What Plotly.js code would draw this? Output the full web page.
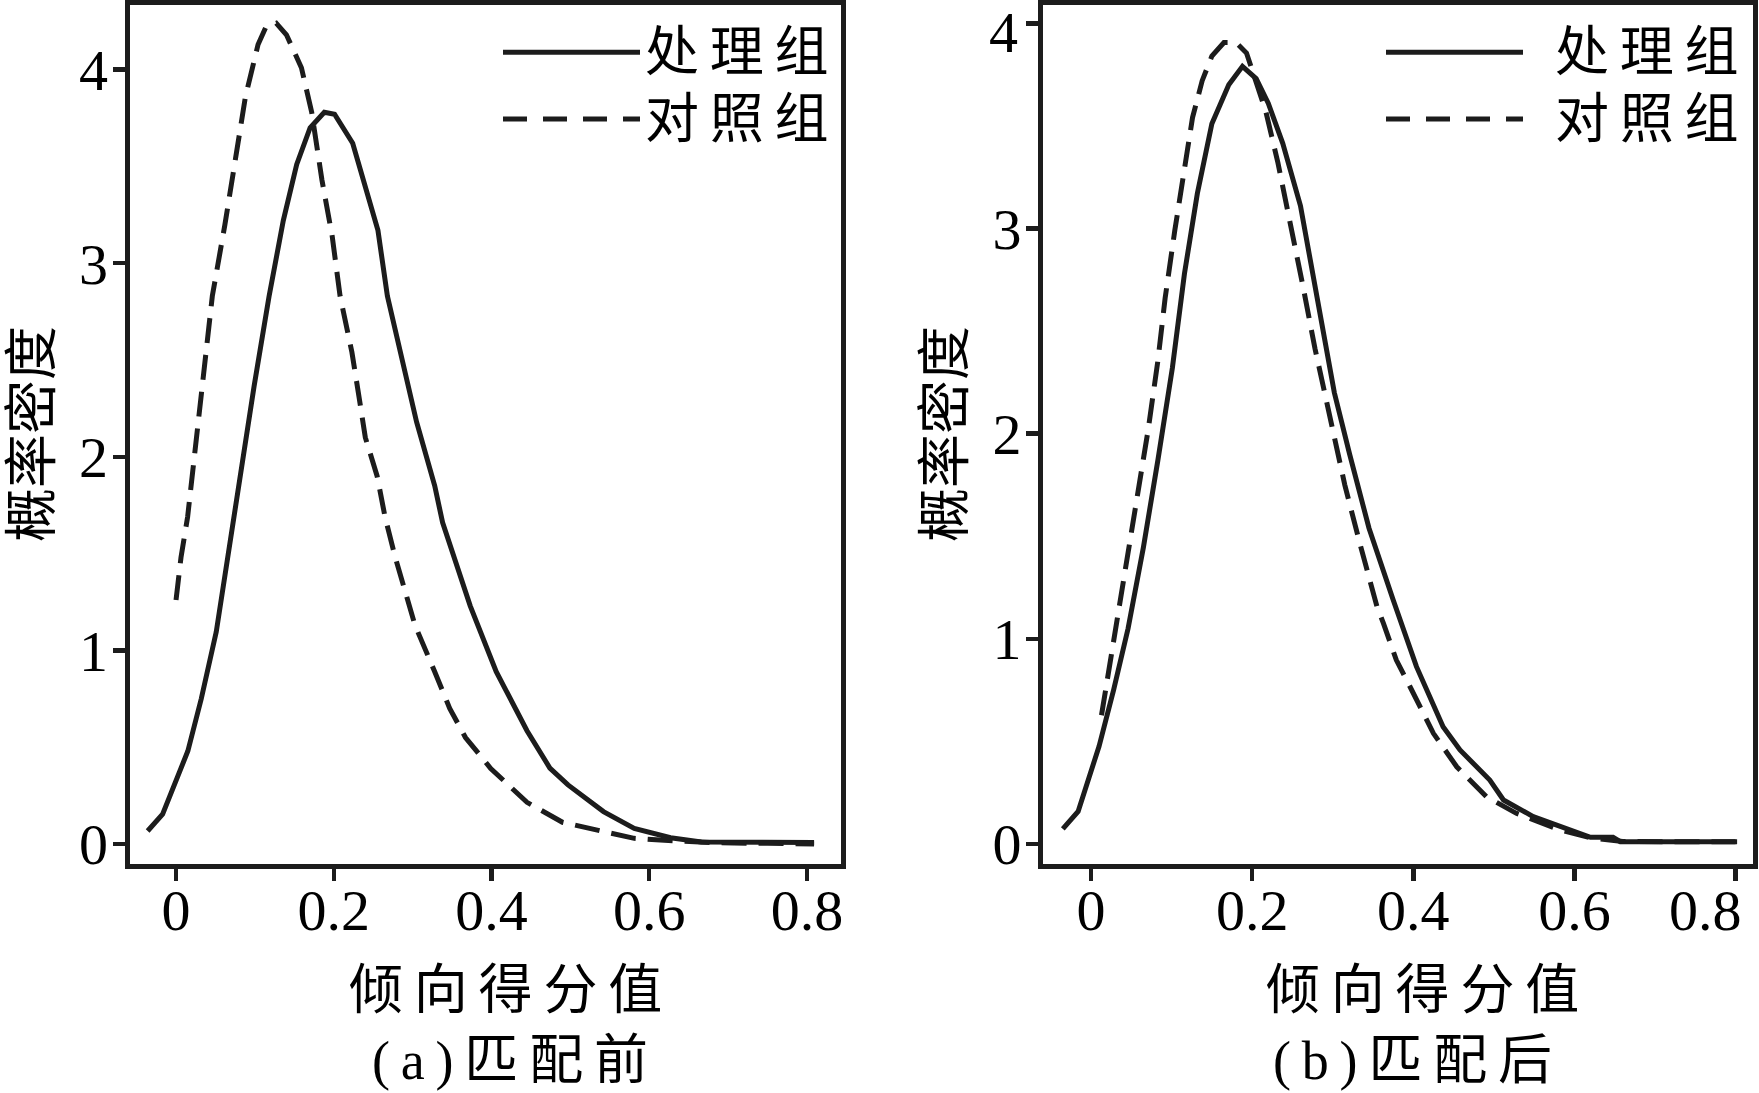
<!DOCTYPE html>
<html><head><meta charset="utf-8">
<script src="https://cdn.plot.ly/plotly-3.0.1.min.js"></script>
<style>html,body{margin:0;padding:0;background:#fff}</style>
</head><body>
<div id="chart" style="width:1759px;height:1093px"></div>
<script>
// ---- data ----
const seriesNames = ["处理组", "对照组"];
const xTickVals = [0, 0.2, 0.4, 0.6, 0.8];
const xTickText = ["0", "0.2", "0.4", "0.6", "0.8"];
const leftYTickVals = [0, 1, 2, 3, 4];
const rightYTickVals = [0, 1, 2, 3, 4];

// (a) before matching
const beforeTreatX = [-0.036,-0.017,0.015,0.032,0.051,0.067,0.084,0.099,0.118,0.136,0.153,0.170,0.188,0.201,0.224,0.256,0.268,0.305,0.328,0.338,0.373,0.406,0.445,0.474,0.497,0.542,0.581,0.627,0.666,0.740,0.809];
const beforeTreatY = [0.067,0.154,0.48,0.75,1.096,1.52,1.98,2.365,2.83,3.22,3.51,3.70,3.78,3.77,3.62,3.17,2.83,2.18,1.85,1.66,1.23,0.89,0.585,0.392,0.305,0.167,0.080,0.032,0.010,0.008,0.008];
const beforeCtrlX = [0,0.0063,0.0147,0.021,0.027,0.034,0.040,0.046,0.062,0.075,0.088,0.104,0.114,0.127,0.140,0.159,0.172,0.185,0.198,0.208,0.223,0.232,0.240,0.255,0.265,0.278,0.291,0.303,0.328,0.347,0.367,0.399,0.445,0.490,0.542,0.581,0.633,0.685,0.750,0.809];
const beforeCtrlY = [1.26,1.48,1.69,1.92,2.13,2.35,2.58,2.83,3.20,3.52,3.86,4.13,4.22,4.24,4.18,4.01,3.78,3.43,3.14,2.83,2.54,2.31,2.10,1.90,1.69,1.48,1.29,1.13,0.89,0.70,0.55,0.39,0.215,0.112,0.064,0.029,0.016,0.006,0.003,0.0];

// (b) after matching
const afterTreatX = [-0.035,-0.016,0.010,0.028,0.046,0.065,0.083,0.101,0.116,0.132,0.150,0.171,0.188,0.205,0.220,0.238,0.260,0.284,0.302,0.321,0.345,0.375,0.404,0.437,0.458,0.495,0.512,0.549,0.582,0.620,0.648,0.657,0.730,0.802];
const afterTreatY = [0.073,0.158,0.476,0.75,1.05,1.445,1.87,2.32,2.78,3.17,3.51,3.70,3.79,3.73,3.61,3.415,3.11,2.60,2.20,1.90,1.54,1.19,0.864,0.571,0.458,0.311,0.214,0.133,0.084,0.032,0.032,0.011,0.011,0.011];
const afterCtrlX = [0.013,0.022,0.034,0.046,0.0585,0.071,0.083,0.092,0.104,0.116,0.126,0.138,0.150,0.165,0.180,0.193,0.205,0.217,0.232,0.248,0.263,0.278,0.296,0.315,0.333,0.355,0.363,0.379,0.396,0.425,0.454,0.491,0.528,0.582,0.620,0.660,0.730,0.800];
const afterCtrlY = [0.627,0.84,1.14,1.415,1.72,2.02,2.355,2.66,2.99,3.29,3.54,3.72,3.84,3.906,3.906,3.855,3.72,3.57,3.32,3.02,2.72,2.415,2.08,1.75,1.475,1.156,1.075,0.896,0.766,0.539,0.376,0.230,0.149,0.068,0.03,0.012,0.01,0.01];

const xTitle = "倾向得分值";
const yTitle = "概率密度";
const captions = ["(a)匹配前", "(b)匹配后"];

// ---- styles ----
const INK = "#1c1c1c";
const LW = 5;
const DASH = "25px,12px";
const SERIF = "Liberation Serif, Times New Roman, serif";
const CJK = "Liberation Serif, Noto Sans CJK SC, sans-serif";
const sp = s => Array.from(s).join("\u2009");

function line(x, y, name, dashed, xa, ya) {
  return {type: "scatter", mode: "lines", x: x, y: y, name: name, xaxis: xa, yaxis: ya,
    showlegend: false, hoverinfo: "x+y",
    line: {color: INK, width: LW, dash: dashed ? DASH : "solid"}};
}

const data = [
  line(beforeTreatX, beforeTreatY, seriesNames[0], false, "x", "y"),
  line(beforeCtrlX, beforeCtrlY, seriesNames[1], true, "x", "y"),
  line(afterTreatX, afterTreatY, seriesNames[0], false, "x2", "y2"),
  line(afterCtrlX, afterCtrlY, seriesNames[1], true, "x2", "y2")
];

const TICKFONT = {family: SERIF, size: 58, color: "#000"};
const common = {ticks: "outside", ticklen: 12, tickwidth: 4.5, tickcolor: INK,
  showline: true, linecolor: INK, linewidth: 5, mirror: true, showgrid: false, zeroline: false,
  tickfont: TICKFONT};

function xaxis(domain, range, anchor, text) {
  return Object.assign({domain: domain, range: range, anchor: anchor, tickmode: "array",
    tickvals: xTickVals, ticktext: text, ticklabelstandoff: -20}, common);
}
function yaxis(domain, range, anchor, vals, text) {
  return Object.assign({domain: domain, range: range, anchor: anchor, tickmode: "array",
    tickvals: vals, ticktext: text, ticklabelstandoff: -7}, common);
}

const W = 1759, H = 1093;
const px = v => v / W, py = v => 1 - v / H;
const yDom = [py(863.5), py(5)];

// In the reference the right panel's edge labels ("0.8" and "4") are pulled inside the picture,
// so they are drawn as annotations tied to the axis instead of as ordinary tick labels.
const lastX = xTickVals.length - 1, lastY = rightYTickVals.length - 1;
const rightXTickText = xTickText.map((t, i) => i === lastX ? "" : t);
const rightYTickText = rightYTickVals.map((v, i) => i === lastY ? "" : String(v));

const shapes = [];
const annotations = [];
[[503, 640, 643], [1386, 1523, 1553]].forEach(([x0, x1, tx]) => {
  shapes.push({type: "line", xref: "paper", yref: "paper", x0: px(x0), x1: px(x1), y0: py(52.3), y1: py(52.3),
    line: {color: INK, width: 5, dash: "solid"}});
  shapes.push({type: "line", xref: "paper", yref: "paper", x0: px(x0), x1: px(x1), y0: py(119), y1: py(119),
    line: {color: INK, width: 5, dash: "24px,16px"}});
  annotations.push({xref: "paper", yref: "paper", x: px(tx), y: py(53), xanchor: "left", yanchor: "middle",
    text: sp(seriesNames[0]), showarrow: false, font: {family: CJK, size: 54, color: "#000"}});
  annotations.push({xref: "paper", yref: "paper", x: px(tx), y: py(120), xanchor: "left", yanchor: "middle",
    text: sp(seriesNames[1]), showarrow: false, font: {family: CJK, size: 54, color: "#000"}});
});
[[506, 33, 510], [1422, 946, 1412]].forEach(([xt, yt, cap], i) => {
  annotations.push({xref: "paper", yref: "paper", x: px(xt), y: py(991), xanchor: "center", yanchor: "middle",
    text: sp(xTitle), showarrow: false, font: {family: CJK, size: 54, color: "#000"}});
  annotations.push({xref: "paper", yref: "paper", x: px(yt), y: py(434), xanchor: "center", yanchor: "middle",
    text: yTitle, textangle: -90, showarrow: false, font: {family: CJK, size: 54, color: "#000"}});
  annotations.push({xref: "paper", yref: "paper", x: px(cap), y: 0, xanchor: "center", yanchor: "bottom",
    text: sp(captions[i]), showarrow: false, font: {family: CJK, size: 54, color: "#000"}});
});
// right panel edge labels
annotations.push({xref: "x2", yref: "paper", x: xTickVals[lastX], y: py(910), xanchor: "right", yanchor: "middle",
  xshift: 8, text: xTickText[lastX], showarrow: false, font: TICKFONT});
annotations.push({xref: "paper", yref: "paper", x: px(1020), y: 1, xanchor: "right", yanchor: "top",
  yshift: 2, text: String(rightYTickVals[lastY]), showarrow: false, font: TICKFONT});

const layout = {
  width: W, height: H, margin: {l: 0, r: 0, t: 0, b: 0},
  paper_bgcolor: "#fff", plot_bgcolor: "#fff", showlegend: false,
  xaxis: xaxis([px(129.5), px(840.5)], [-0.059, 0.8425], "y", xTickText),
  yaxis: yaxis(yDom, [-0.101, 4.334], "x", leftYTickVals, leftYTickVals.map(String)),
  xaxis2: xaxis([px(1043), px(1752.5)], [-0.0596, 0.8211], "y2", rightXTickText),
  yaxis2: yaxis(yDom, [-0.0955, 4.089], "x2", rightYTickVals, rightYTickText),
  shapes: shapes, annotations: annotations
};

Plotly.newPlot("chart", data, layout, {displayModeBar: false, staticPlot: true});
</script>
</body></html>
